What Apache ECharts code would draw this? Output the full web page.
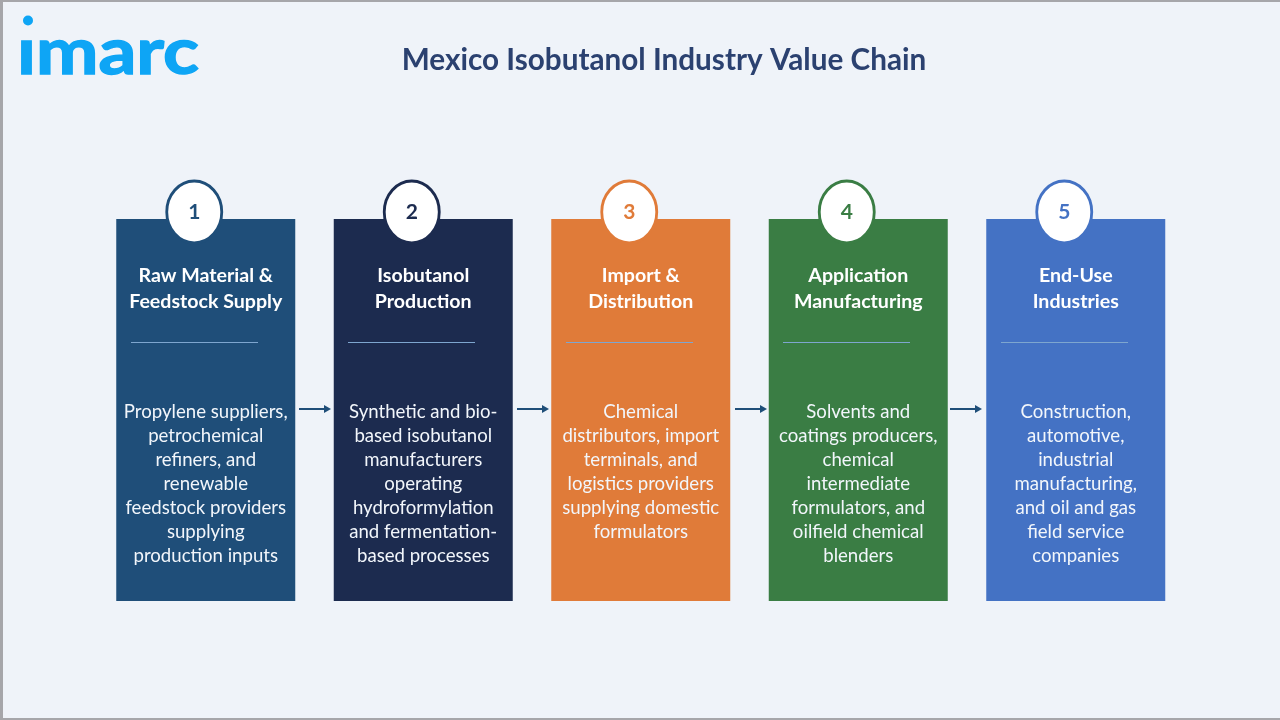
<!DOCTYPE html>
<html>
<head>
<meta charset="utf-8">
<title>Mexico Isobutanol Industry Value Chain</title>
<script src="https://cdn.jsdelivr.net/npm/echarts@6/dist/echarts.min.js"></script>
<style>
html, body { margin: 0; padding: 0; background: #eff3f9; }
#chart { width: 1280px; height: 720px; }
</style>
</head>
<body>
<div id="chart"></div>
<script>
var titleText = 'Mexico Isobutanol Industry Value Chain';
var stepNumbers = ['1', '2', '3', '4', '5'];
var headings = [
    'Raw Material &\nFeedstock Supply',
    'Isobutanol\nProduction',
    'Import &\nDistribution',
    'Application\nManufacturing',
    'End-Use\nIndustries'
];
var descriptions = [
    'Propylene suppliers,\npetrochemical\nrefiners, and\nrenewable\nfeedstock providers\nsupplying\nproduction inputs',
    'Synthetic and bio-\nbased isobutanol\nmanufacturers\noperating\nhydroformylation\nand fermentation-\nbased processes',
    'Chemical\ndistributors, import\nterminals, and\nlogistics providers\nsupplying domestic\nformulators',
    'Solvents and\ncoatings producers,\nchemical\nintermediate\nformulators, and\noilfield chemical\nblenders',
    'Construction,\nautomotive,\nindustrial\nmanufacturing,\nand oil and gas\nfield service\ncompanies'
];
var panelColors = ['#1f4e79', '#1c2b4f', '#e07b39', '#3a7d44', '#4472c4'];
var panelHeight = 382;
var FONT = 'Lato';

var myChart = echarts.init(document.getElementById('chart'));

// thin rule under each heading, small arrow between panels
var ruleLefts = [131, 348, 566, 783, 1001];
var arrowLefts = [299, 517, 735, 950];
var deco = [
    {type: 'rect', shape: {x: 0, y: 0, width: 3, height: 720}, style: {fill: '#a6a6aa'}},
    {type: 'rect', shape: {x: 0, y: 0, width: 1280, height: 2}, style: {fill: '#a6a6aa'}},
    {type: 'rect', shape: {x: 0, y: 718, width: 1280, height: 2}, style: {fill: '#a6a6aa'}},
    // logo, the dot is drawn apart from a dotless i
    {type: 'circle', shape: {cx: 28, cy: 20.5, r: 5}, style: {fill: '#0ea5f5'}},
    {type: 'text', x: 17, y: 21, scaleX: 1.065, scaleY: 0.92,
        style: {text: '\u0131marc', fill: '#0ea5f5', stroke: '#0ea5f5', lineWidth: 1.5, font: 'bold 70px ' + FONT}}
];
ruleLefts.forEach(function(x) {
    deco.push({type: 'line', z: 10, shape: {x1: x, y1: 342.5, x2: x + 127, y2: 342.5},
        style: {stroke: '#7ea6cf', lineWidth: 1}});
});
arrowLefts.forEach(function(x) {
    deco.push({type: 'line', shape: {x1: x, y1: 409, x2: x + 28, y2: 409},
        style: {stroke: '#1f4e79', lineWidth: 2}});
    deco.push({type: 'polygon', shape: {points: [[x + 25, 405], [x + 32, 409], [x + 25, 413]]},
        style: {fill: '#1f4e79'}});
});

var option = {
    backgroundColor: '#eff3f9',
    animation: false,
    title: {
        text: titleText,
        left: 659,
        top: 40,
        textAlign: 'center',
        textStyle: {color: '#2b4170', fontFamily: FONT, fontWeight: 'bold', fontSize: 29.7}
    },
    grid: {left: 97, top: 219, width: 1087.5, height: panelHeight},
    xAxis: {type: 'category', data: stepNumbers, show: false},
    yAxis: {type: 'value', min: 0, max: panelHeight, inverse: true, show: false},
    graphic: {elements: deco},
    series: [
        {
            name: 'panels',
            type: 'bar',
            barWidth: 179,
            z: 2,
            data: panelColors.map(function(c) {
                return {value: panelHeight, itemStyle: {color: c}};
            })
        },
        {
            name: 'badges',
            type: 'scatter',
            clip: false,
            z: 5,
            symbol: 'circle',
            symbolSize: [55, 62],
            symbolOffset: [-11.5, 0],
            data: stepNumbers.map(function(n, i) {
                return {
                    value: [i, -7],
                    itemStyle: {color: '#ffffff', borderColor: panelColors[i], borderWidth: 3, opacity: 1},
                    label: {
                        show: true, position: 'inside', formatter: n, color: panelColors[i],
                        fontFamily: FONT, fontWeight: 'bold', fontSize: 21
                    }
                };
            })
        },
        {
            name: 'headings',
            type: 'scatter',
            z: 6,
            symbolSize: 1,
            itemStyle: {color: 'transparent', opacity: 1},
            data: headings.map(function(h, i) { return {value: [i, 69.5], label: {formatter: h}}; }),
            label: {
                show: true, position: 'inside', color: '#ffffff', align: 'center',
                fontFamily: FONT, fontWeight: 'bold', fontSize: 19.6, lineHeight: 26
            }
        },
        {
            name: 'descriptions',
            type: 'scatter',
            z: 6,
            symbolSize: 1,
            itemStyle: {color: 'transparent', opacity: 1},
            data: descriptions.map(function(d, i) { return {value: [i, 180.5], label: {formatter: d}}; }),
            label: {
                show: true, position: 'bottom', distance: 0, color: '#f2f6fb', align: 'center',
                fontFamily: FONT, fontSize: 18.6, lineHeight: 24
            }
        }
    ]
};

myChart.setOption(option);
</script>
</body>
</html>
